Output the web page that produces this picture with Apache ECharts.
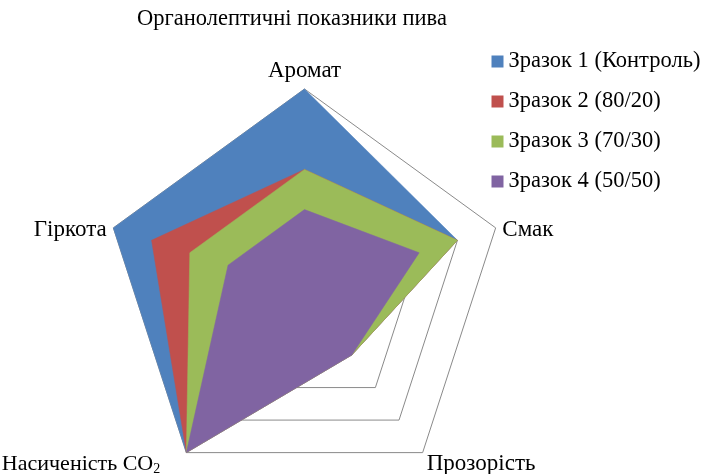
<!DOCTYPE html>
<html>
<head>
<meta charset="utf-8">
<script src="https://cdn.jsdelivr.net/npm/echarts@6/dist/echarts.min.js"></script>
<style>
  html, body { margin: 0; padding: 0; background: #fff; }
  #chart { width: 706px; height: 474px; }
</style>
</head>
<body>
<div id="chart"></div>
<script>
// Indicators listed counter-clockwise from the top (ECharts radar default direction)
const indicators = ['Аромат', 'Гіркота', 'Насиченість CO2', 'Прозорість', 'Смак'];
const scaleMax = 5;

const seriesNames = ['Зразок 1 (Контроль)', 'Зразок 2 (80/20)', 'Зразок 3 (70/30)', 'Зразок 4 (50/50)'];
// Scores in the same order as `indicators`
const sample1 = [5, 5, 5, 2, 4];
const sample2 = [3, 4, 5, 2, 4];
const sample3 = [3, 3, 5, 2, 4];
const sample4 = [2, 2, 5, 2, 3];
const seriesValues = [sample1, sample2, sample3, sample4];
const colors = ['#4F81BD', '#C0504D', '#9BBB59', '#8064A2'];

const FONT = '"Liberation Serif", "Times New Roman", serif';
const NAME_SIZE = 23;

// Per-indicator label styles (nudges around the pentagon vertices)
const nameStyleKey = {
  'Аромат': 'top',
  'Гіркота': 'left',
  'Насиченість CO2': 'bl',
  'Прозорість': 'br',
  'Смак': 'right'
};

const chart = echarts.init(document.getElementById('chart'), null, { renderer: 'canvas' });

chart.setOption({
  animation: false,
  backgroundColor: '#ffffff',
  color: colors,
  title: {
    text: 'Органолептичні показники пива',
    left: 132,
    top: 3,
    textStyle: { fontFamily: FONT, fontSize: 22.5, fontWeight: 'normal', color: '#000' }
  },
  legend: {
    orient: 'vertical',
    left: 486.5,
    top: 45,
    itemWidth: 12,
    itemHeight: 12,
    itemGap: 17,
    icon: 'rect',
    data: seriesNames,
    textStyle: { fontFamily: FONT, fontSize: 22.5, color: '#000' }
  },
  radar: {
    center: [304.5, 290],
    radius: 201,
    startAngle: 90,
    splitNumber: 5,
    shape: 'polygon',
    indicator: indicators.map(n => ({ name: n, max: scaleMax, min: 0 })),
    axisName: {
      color: '#000',
      fontFamily: FONT,
      fontSize: NAME_SIZE,
      formatter: function (name) {
        const key = nameStyleKey[name];
        if (name === 'Насиченість CO2') {
          return '{' + key + '|Насиченість CO}{sub|2}';
        }
        return '{' + key + '|' + name + '}';
      },
      rich: {
        top: { fontFamily: FONT, fontSize: NAME_SIZE, color: '#000', padding: [0, 0, 0, 0] },
        right: { fontFamily: FONT, fontSize: NAME_SIZE, color: '#000', padding: [9, 0, 0, 0] },
        left: { fontFamily: FONT, fontSize: NAME_SIZE, color: '#000', padding: [9, 0, 0, 0] },
        bl: { fontFamily: FONT, fontSize: 22, color: '#000', padding: [12, 0, 0, 0] },
        sub: { fontFamily: FONT, fontSize: 14, color: '#000', padding: [22, 22, 0, 0] },
        br: { fontFamily: FONT, fontSize: NAME_SIZE, color: '#000', padding: [12, 0, 0, 0] }
      }
    },
    nameGap: 7,
    axisLine: { show: false },
    axisTick: { show: false },
    axisLabel: { show: false },
    splitArea: { show: false },
    splitLine: { lineStyle: { color: '#8a8a8a', width: 1 } }
  },
  series: seriesNames.map((name, i) => ({
    name: name,
    type: 'radar',
    symbol: 'none',
    z: 2 + i,
    lineStyle: { width: 0.5, color: colors[i] },
    areaStyle: { color: colors[i], opacity: 1 },
    data: [{ name: name, value: seriesValues[i] }]
  }))
});
</script>
</body>
</html>
